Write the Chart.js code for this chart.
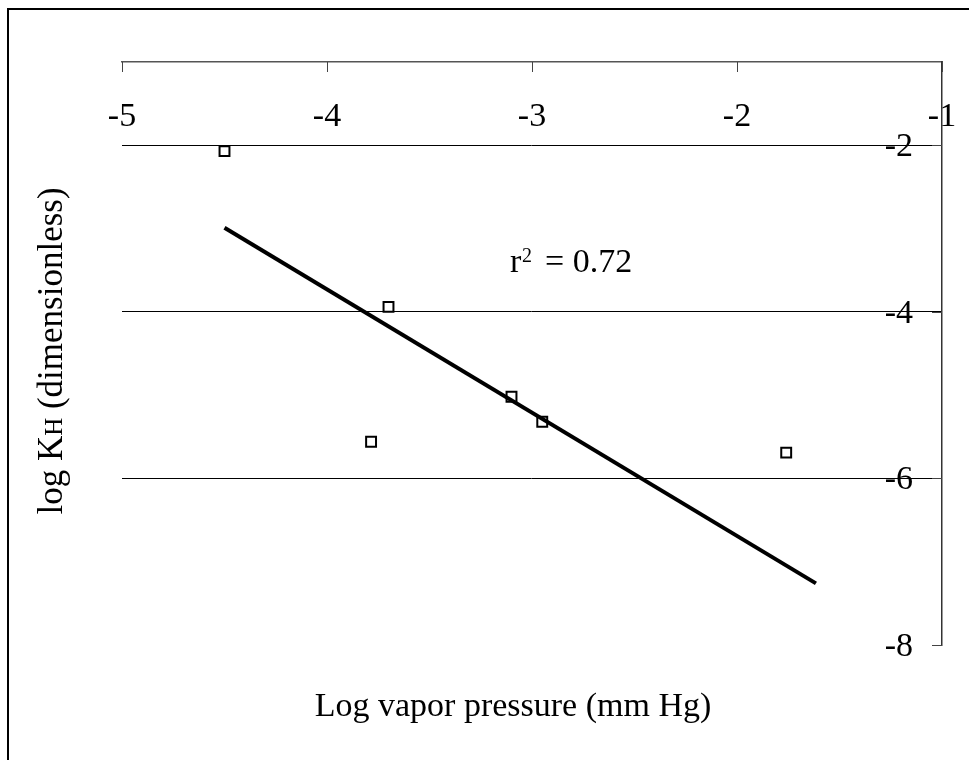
<!DOCTYPE html>
<html><head><meta charset="utf-8">
<script src="https://cdn.jsdelivr.net/npm/chart.js@4.4.1/dist/chart.umd.min.js"></script>
<style>html,body{margin:0;padding:0;background:#fff;} canvas{display:block;}</style>
</head><body>
<canvas id="c" width="969" height="760"></canvas>
<script>
// ---- data ----
const vaporPressureLog = [-4.50, -3.70, -3.785, -3.10, -2.95, -1.76];
const henryLog        = [-2.07, -3.94, -5.56, -5.02, -5.32, -5.69];
const fitX = [-4.50, -1.615];
const fitY = [-2.99, -7.26];
const xTickValues = [-5, -4, -3, -2, -1];
const yTickValues = [-8, -6, -4, -2];
const xTitle = 'Log vapor pressure (mm Hg)';
const yTitleParts = ['log K', 'H', ' (dimensionless)'];
const rSquaredParts = ['r', '2', '= 0.72'];

const SERIF = '"Liberation Serif", "Times New Roman", serif';

const decor = {
  id: 'decor',
  beforeDraw(chart) {
    const ctx = chart.ctx;
    ctx.save();
    ctx.fillStyle = '#fff';
    ctx.fillRect(0, 0, chart.width, chart.height);
    ctx.fillStyle = '#000';
    ctx.fillRect(7, 8, 2, chart.height);
    ctx.fillRect(7, 8, chart.width, 2);
    ctx.restore();
  },
  afterDraw(chart) {
    const {ctx, chartArea, scales} = chart;
    const x = scales.x, y = scales.y;
    ctx.save();
    // inward tick marks
    ctx.strokeStyle = '#444';
    ctx.lineWidth = 1;
    ctx.beginPath();
    xTickValues.forEach(v => {
      const px = Math.round(x.getPixelForValue(v)) + 0.5;
      ctx.moveTo(px, chartArea.top);
      ctx.lineTo(px, chartArea.top + 10);
    });
    yTickValues.forEach(v => {
      const py = Math.round(y.getPixelForValue(v)) + 0.5;
      ctx.moveTo(chartArea.right - 10, py);
      ctx.lineTo(chartArea.right, py);
    });
    ctx.stroke();

    ctx.fillStyle = '#000';
    ctx.textBaseline = 'alphabetic';
    // x title (bottom)
    ctx.font = '34px ' + SERIF;
    ctx.textAlign = 'center';
    ctx.fillText(xTitle, 513, 716);

    // y title (left, rotated)
    ctx.save();
    ctx.translate(62, 351);
    ctx.rotate(-Math.PI / 2);
    ctx.textAlign = 'left';
    const big = '35px ' + SERIF, small = '25px ' + SERIF;
    ctx.font = big; const w0 = ctx.measureText(yTitleParts[0]).width;
    ctx.font = small; const w1 = ctx.measureText(yTitleParts[1]).width;
    ctx.font = big; const w2 = ctx.measureText(yTitleParts[2]).width;
    let sx = -(w0 + w1 + w2) / 2;
    ctx.font = big; ctx.fillText(yTitleParts[0], sx, 0); sx += w0;
    ctx.font = small; ctx.fillText(yTitleParts[1], sx, 0); sx += w1;
    ctx.font = big; ctx.fillText(yTitleParts[2], sx, 0);
    ctx.restore();

    // r^2 annotation
    ctx.textAlign = 'left';
    ctx.font = '34px ' + SERIF;
    ctx.fillText(rSquaredParts[0], 510, 272);
    ctx.font = '20px ' + SERIF;
    ctx.fillText(rSquaredParts[1], 522, 262);
    ctx.font = '34px ' + SERIF;
    ctx.fillText(rSquaredParts[2], 545, 272);
    ctx.restore();
  }
};

new Chart(document.getElementById('c'), {
  type: 'scatter',
  data: {
    datasets: [
      {
        data: vaporPressureLog.map((v, i) => ({x: v, y: henryLog[i]})),
        pointStyle: 'rect',
        pointRadius: 7,
        pointBorderWidth: 2,
        pointBorderColor: '#000',
        pointBackgroundColor: 'rgba(0,0,0,0)',
        showLine: false
      },
      {
        data: fitX.map((v, i) => ({x: v, y: fitY[i]})),
        showLine: true,
        borderColor: '#000',
        borderWidth: 4,
        pointRadius: 0,
        fill: false
      }
    ]
  },
  options: {
    responsive: false,
    animation: false,
    devicePixelRatio: 1,
    layout: {padding: {left: 122, top: 62, right: 27, bottom: 115}},
    plugins: {legend: {display: false}, tooltip: {enabled: false}, title: {display: false}},
    scales: {
      x: {
        type: 'linear', position: 'top', min: -5, max: -1,
        afterBuildTicks: s => { s.ticks = xTickValues.map(v => ({value: v})); },
        afterFit: s => { s.height = 0; s.paddingLeft = 0; s.paddingRight = 0; },
        ticks: {mirror: true, padding: 35, autoSkip: false, maxRotation: 0,
                color: '#000', font: {family: SERIF, size: 34}},
        grid: {drawOnChartArea: false, drawTicks: false},
        border: {display: true, color: '#555', width: 1.5}
      },
      y: {
        type: 'linear', position: 'right', min: -8, max: -1,
        afterBuildTicks: s => { s.ticks = yTickValues.map(v => ({value: v})); },
        afterFit: s => { s.width = 0; s.paddingTop = 0; s.paddingBottom = 0; },
        ticks: {mirror: true, padding: -29, labelOffset: 2, color: '#000', font: {family: SERIF, size: 34}},
        grid: {
          drawTicks: false, lineWidth: 1,
          color: c => (c.tick && c.tick.value === -8) ? 'rgba(0,0,0,0)' : '#000'
        },
        border: {display: true, color: '#333', width: 1.5}
      }
    }
  },
  plugins: [decor]
});
</script>
</body></html>
